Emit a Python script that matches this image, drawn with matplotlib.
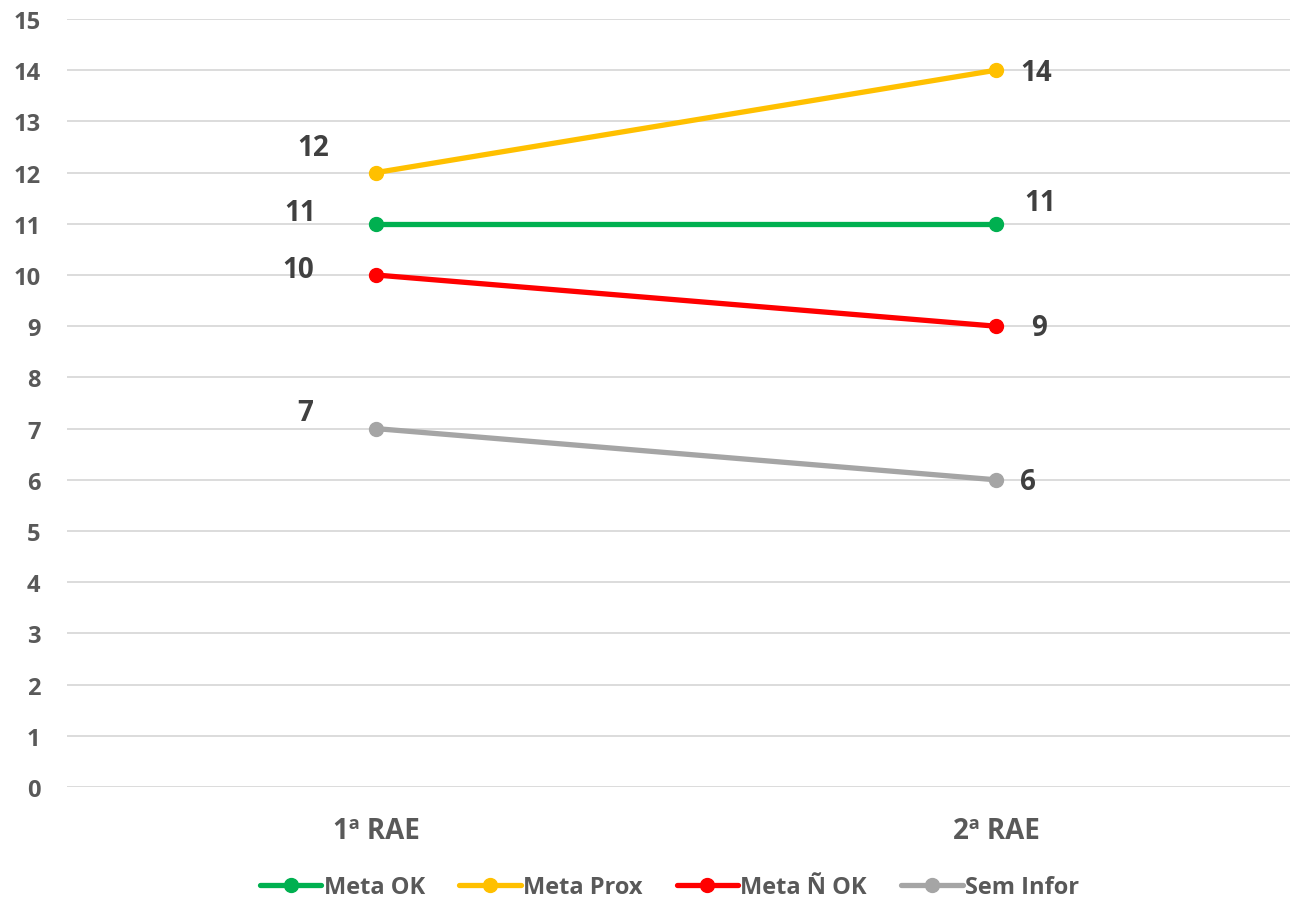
import matplotlib
matplotlib.use("Agg")
import matplotlib.pyplot as plt

# ----------------------------------------------------------------------------------------------------------------------
# Data
categories = ["1ª RAE", "2ª RAE"]
series_names = ["Meta OK", "Meta Prox", "Meta Ñ OK", "Sem Infor"]
meta_ok = [11, 11]
meta_prox = [12, 14]
meta_n_ok = [10, 9]
sem_infor = [7, 6]
y_ticks = list(range(0, 16))

colors = ["#00B050", "#FFC000", "#FF0000", "#A5A5A5"]
# label offsets in pixels (first point, second point)
offsets = [
    [(-76, 11), (44, 21)],
    [(-63, 25), (40, -2)],
    [(-78, 6), (43, -1)],
    [(-71, 16), (32, -2)],
]
# ----------------------------------------------------------------------------------------------------------------------

plt.rcParams['font.family'] = ['Open Sans', 'DejaVu Sans']

fig = plt.figure(figsize=(12.9, 9.03), dpi=100)
ax = fig.add_axes([67 / 1290, 1 - 788 / 903, 1 - 67 / 1290, (788 - 20) / 903])

x = list(range(len(categories)))
all_series = [meta_ok, meta_prox, meta_n_ok, sem_infor]

for name, vals, col, offs in zip(series_names, all_series, colors, offsets):
    ax.plot(x, vals, color=col, linewidth=3.8, marker='o', markersize=10, label=name,
            solid_capstyle='round', zorder=3)
    for xi, v, off in zip(x, vals, offs):
        ax.annotate(str(v), (xi, v), xytext=off, textcoords='offset pixels',
                    ha='center', va='center', fontsize=20, fontweight='bold', color='#404040')

ax.set_xlim((67 - 376) / 620, (1290 - 376) / 620)
ax.set_ylim(0, 15)
ax.set_yticks(y_ticks)
ax.set_xticks(x)
ax.set_xticklabels(categories)
ax.grid(axis='y', color='#D9D9D9', linewidth=1.3, zorder=0)
ax.set_axisbelow(True)
for s in ax.spines.values():
    s.set_visible(False)
ax.tick_params(axis='y', length=0, labelcolor='#595959', labelsize=17, pad=19)
ax.tick_params(axis='x', length=0, labelcolor='#595959', labelsize=20, pad=21)
for lbl in ax.get_xticklabels() + ax.get_yticklabels():
    lbl.set_fontweight('bold')

leg = fig.legend(loc='center', bbox_to_anchor=(0.519, 1 - 888 / 903), ncol=4, frameon=False,
                 fontsize=17, handlelength=2.6, columnspacing=1.45, handletextpad=0.1)
for t in leg.get_texts():
    t.set_color('#595959')
    t.set_fontweight('bold')

fig.savefig("out.png", dpi=100)
